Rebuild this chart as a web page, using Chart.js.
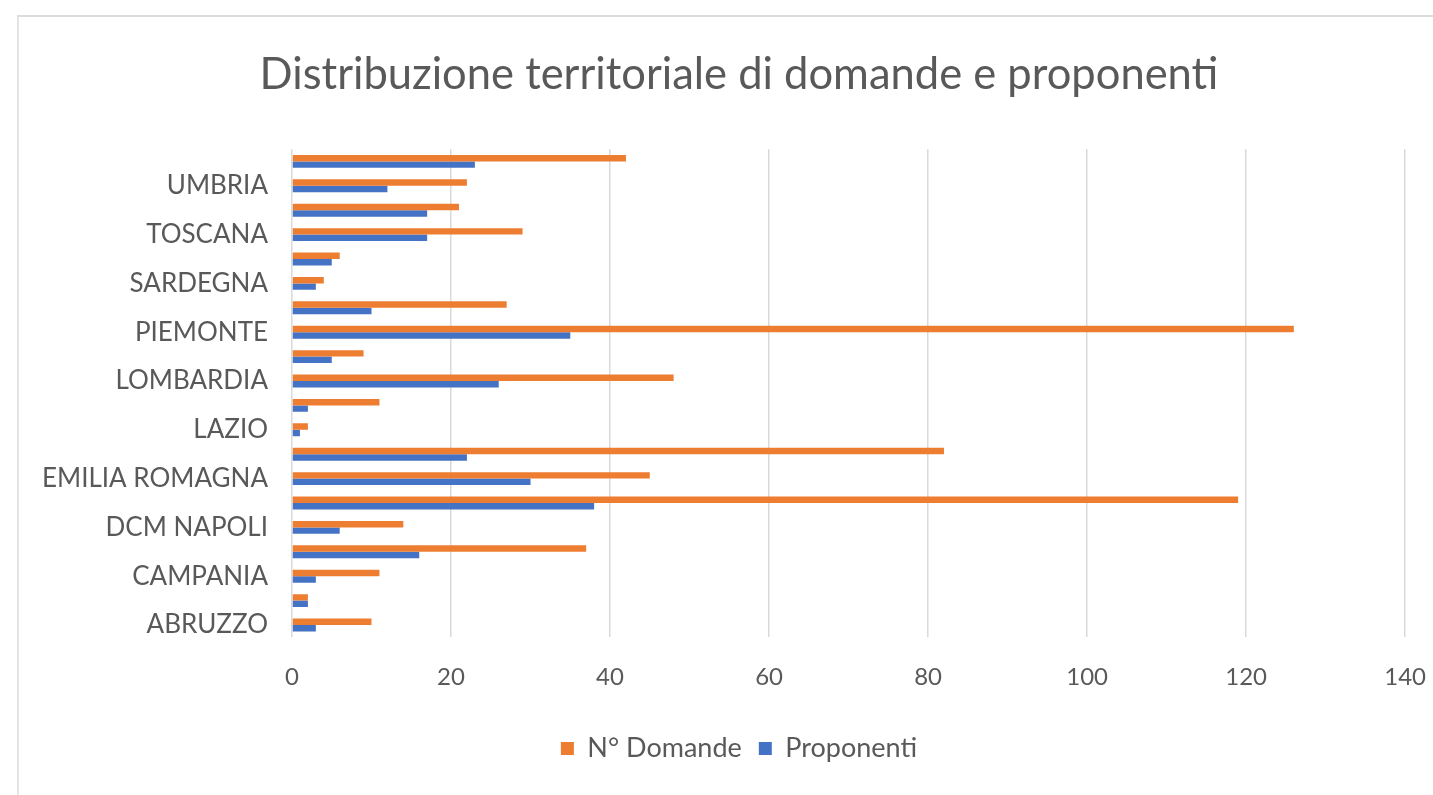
<!DOCTYPE html>
<html>
<head>
<meta charset="utf-8">
<script src="https://cdn.jsdelivr.net/npm/chart.js@4"></script>
<style>
    html, body { margin: 0; padding: 0; background: #fff; overflow: hidden; }
    #frame {
        position: absolute; left: 17px; top: 15px;
        width: 1435px; height: 780px;
        border-top: 2px solid #dcdcdc; border-left: 2px solid #e4e4e4;
        box-sizing: border-box;
    }
</style>
</head>
<body>
<div id="frame"><canvas id="regionsChart"></canvas></div>
<script>
// categories in Excel order (first one is drawn at the bottom)
const regions = ['ABRUZZO', 'BASILICATA', 'CAMPANIA', 'DCM MILANO', 'DCM NAPOLI', 'DCM ROMA',
    'EMILIA ROMAGNA', 'FRIULI VENEZIA GIULIA', 'LAZIO', 'LIGURIA', 'LOMBARDIA', 'MARCHE',
    'PIEMONTE', 'PUGLIA', 'SARDEGNA', 'SICILIA', 'TOSCANA', 'TRENTINO ALTO ADIGE', 'UMBRIA', 'VENETO'];
const domande = [10, 2, 11, 37, 14, 119, 45, 82, 2, 11, 48, 9, 126, 27, 4, 6, 29, 21, 22, 42];
const proponenti = [3, 2, 3, 16, 6, 38, 30, 22, 1, 2, 26, 5, 35, 10, 3, 5, 17, 17, 12, 23];
const xTicks = [0, 20, 40, 60, 80, 100, 120, 140];

document.addEventListener('DOMContentLoaded', function () {
    const ctx = document.getElementById('regionsChart').getContext('2d');
    const grey = '#595959';

    new Chart(ctx, {
        type: 'bar',
        data: {
            labels: regions,
            datasets: [
                {
                    label: 'N° Domande',
                    data: domande,
                    backgroundColor: '#ED7D31',
                    barPercentage: 1.0,
                    categoryPercentage: 0.53,
                },
                {
                    label: 'Proponenti',
                    data: proponenti,
                    backgroundColor: '#4472C4',
                    barPercentage: 1.0,
                    categoryPercentage: 0.53,
                },
            ],
        },
        options: {
            indexAxis: 'y',
            responsive: true,
            maintainAspectRatio: false,
            animation: false,
            layout: { padding: { top: 22, left: 7, right: 0, bottom: 23 } },
            scales: {
                x: {
                    min: xTicks[0],
                    max: xTicks[xTicks.length - 1],
                    ticks: {
                        stepSize: xTicks[1] - xTicks[0],
                        color: grey,
                        padding: 26,
                        font: { family: 'Lato', size: 24 },
                    },
                    grid: { color: '#d9d9d9', lineWidth: 1.5, drawTicks: false },
                    border: { display: false },
                },
                y: {
                    reverse: true,
                    ticks: {
                        autoSkip: false,
                        color: grey,
                        padding: 24,
                        font: { family: 'Lato', size: 26 },
                        // Excel only shows every other category name
                        callback: function (value, index) {
                            return index % 2 === 0 ? this.getLabelForValue(value) : '';
                        },
                    },
                    grid: { display: false, drawTicks: false },
                    border: { display: false },
                    afterFit: function (axis) { axis.width = 266; },
                },
            },
            plugins: {
                title: {
                    display: true,
                    text: 'Distribuzione territoriale di domande e proponenti',
                    color: grey,
                    font: { family: 'Lato', size: 43.5, weight: 'normal' },
                    padding: { top: 10, bottom: 48 },
                },
                legend: {
                    position: 'bottom',
                    labels: {
                        color: grey,
                        boxWidth: 13,
                        boxHeight: 13,
                        padding: 17,
                        font: { family: 'Lato', size: 27 },
                    },
                },
                tooltip: { enabled: false },
            },
        },
    });
});
</script>
</body>
</html>
